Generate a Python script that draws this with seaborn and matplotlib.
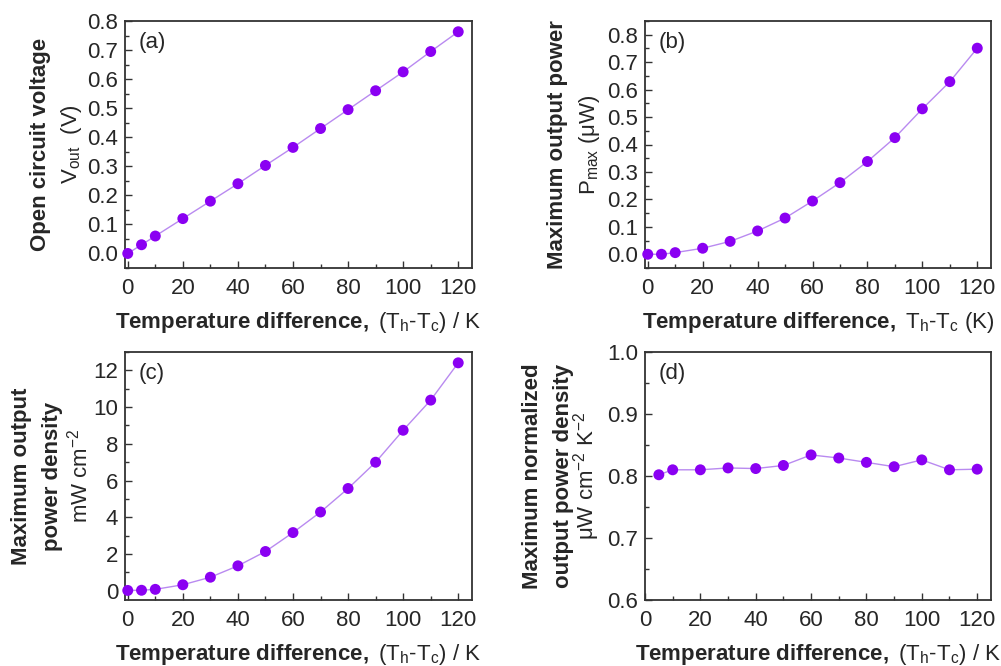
import numpy as np
import pandas as pd
import matplotlib
matplotlib.use("Agg")
import matplotlib.pyplot as plt
from matplotlib.ticker import MultipleLocator
import seaborn as sns

# temperature difference (K)
dT = [0, 5, 10, 20, 30, 40, 50, 60, 70, 80, 90, 100, 110, 120]
dT_d = [5, 10, 20, 30, 40, 50, 60, 70, 80, 90, 100, 110, 120]

# panel values
v_out = [0.0, 0.03, 0.06, 0.12, 0.18, 0.24, 0.303, 0.365, 0.43, 0.495, 0.56, 0.625, 0.695, 0.763]
p_max = [0.0, 0.0, 0.006, 0.022, 0.047, 0.085, 0.132, 0.194, 0.261, 0.338, 0.425, 0.53, 0.629, 0.751]
p_dens = [0.02, 0.03, 0.08, 0.33, 0.74, 1.36, 2.14, 3.17, 4.29, 5.57, 7.0, 8.74, 10.38, 12.41]
p_norm = [0.802, 0.810, 0.810, 0.813, 0.812, 0.817, 0.834, 0.829, 0.822, 0.815, 0.826, 0.810, 0.811]

panel_tags = ["(a)", "(b)", "(c)", "(d)"]

sns.set_style("ticks")
plt.rcParams["font.family"] = ["Liberation Sans", "DejaVu Sans"]
plt.rcParams["mathtext.fontset"] = "custom"
plt.rcParams["mathtext.rm"] = "Liberation Sans"
plt.rcParams["mathtext.it"] = "Liberation Sans:italic"
plt.rcParams["mathtext.bf"] = "Liberation Sans:bold"

marker_col = "#8A00F2"
line_col = "#B98AF0"
spine_col = "#333333"
fs = 16
W, H = 1001, 666

fig = plt.figure(figsize=(W / 100, H / 100), dpi=100)

boxes = [
    [125 / W, 1 - 268 / H, 347 / W, 247 / H],
    [645 / W, 1 - 268 / H, 346 / W, 247 / H],
    [125 / W, 1 - 600 / H, 347 / W, 248 / H],
    [645 / W, 1 - 600 / H, 346 / W, 248 / H],
]

xlab_a = r"$\mathbf{Temperature\ difference,}$ (T$_\mathrm{h}$-T$_\mathrm{c}$) / K"
xlab_b = r"$\mathbf{Temperature\ difference,}$ T$_\mathrm{h}$-T$_\mathrm{c}$ (K)"
xlabels = [xlab_a, xlab_b, xlab_a, xlab_a]

# y-axis titles: bold lines, then the unit line
ytitle_bold = [
    ["Open circuit voltage"],
    ["Maximum output power"],
    ["Maximum output", "power density"],
    ["Maximum normalized", "output power density"],
]
ytitle_unit = [
    r"V$_\mathrm{out}$  (V)",
    r"P$_\mathrm{max}$ (μW)",
    r"mW cm$^{-2}$",
    r"μW cm$^{-2}$ K$^{-2}$",
]
# pixel offsets of each line centre left of the axes
ytitle_off = [
    [-85, -54],
    [-87, -56],
    [-104, -73, -45],
    [-112, -82, -58],
]

series = [
    pd.DataFrame({"dT": dT, "val": v_out}),
    pd.DataFrame({"dT": dT, "val": p_max}),
    pd.DataFrame({"dT": dT, "val": p_dens}),
    pd.DataFrame({"dT": dT_d, "val": p_norm}),
]

ylims = [(-0.05, 0.8), (-0.05, 0.85), (-0.5, 13), (0.6, 1.0)]
xlims = [(-1, 125), (-1, 125), (-1, 125), (0, 125)]
ymajor = [0.1, 0.1, 2, 0.1]
yminor = [0.05, 0.05, 1, 0.05]

for i, box in enumerate(boxes):
    ax = fig.add_axes(box)
    df = series[i]
    sns.lineplot(data=df, x="dT", y="val", ax=ax, color=line_col, linewidth=1.0, zorder=2)
    sns.scatterplot(data=df, x="dT", y="val", ax=ax, color=marker_col, s=62,
                    edgecolor="none", zorder=3, clip_on=False)
    ax.set_xlim(*xlims[i])
    ax.set_ylim(*ylims[i])
    ax.xaxis.set_major_locator(MultipleLocator(20))
    ax.xaxis.set_minor_locator(MultipleLocator(10))
    ax.yaxis.set_major_locator(MultipleLocator(ymajor[i]))
    ax.yaxis.set_minor_locator(MultipleLocator(yminor[i]))
    if i == 2:
        ax.set_yticks([0, 2, 4, 6, 8, 10, 12])
    ax.tick_params(which="both", direction="in", top=False, right=False,
                   color=spine_col, labelsize=fs, width=1.0)
    ax.tick_params(which="major", length=5)
    ax.tick_params(which="minor", length=3)
    ax.tick_params(axis="x", pad=7)
    ax.tick_params(axis="y", pad=5)
    for sp in ax.spines.values():
        sp.set_color(spine_col)
        sp.set_linewidth(1.3)
    ax.set_xlabel(xlabels[i], fontsize=fs, labelpad=8)
    ax.set_ylabel("")

    axw = box[2] * W
    lines = [(t, "bold") for t in ytitle_bold[i]] + [(ytitle_unit[i], "normal")]
    for (txt, wt), off in zip(lines, ytitle_off[i]):
        ax.text(off / axw, 0.5, txt, transform=ax.transAxes, rotation=90,
                ha="center", va="center", fontsize=fs, fontweight=wt)

    ax.text(0.04, 0.955, panel_tags[i], transform=ax.transAxes, fontsize=fs,
            ha="left", va="top")

fig.savefig("out.png", dpi=100)
